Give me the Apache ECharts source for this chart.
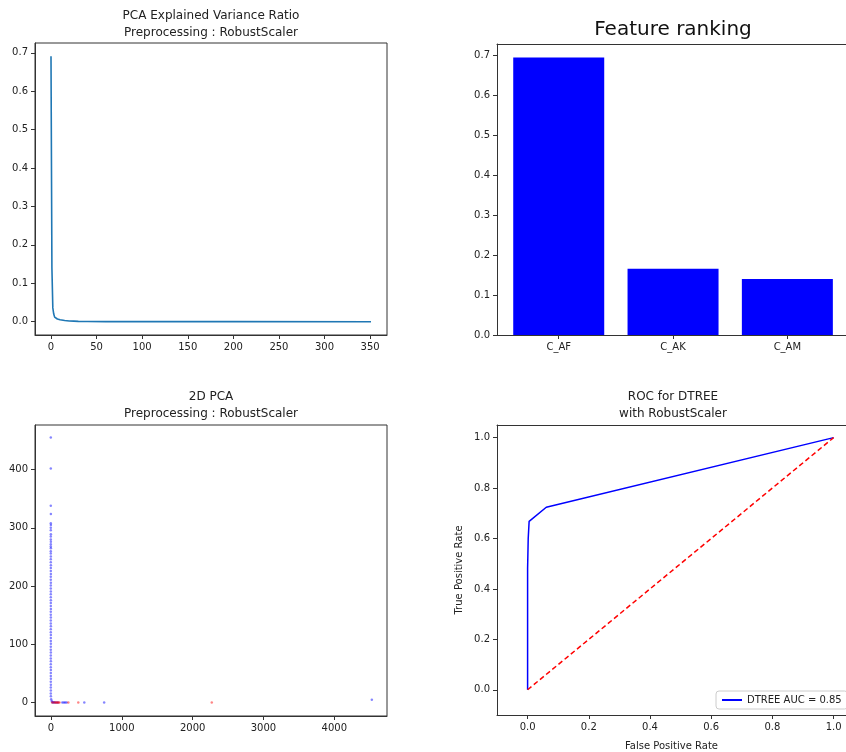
<!DOCTYPE html>
<html>
<head>
<meta charset="utf-8">
<script src="https://cdn.jsdelivr.net/npm/echarts@6/dist/echarts.min.js"></script>
<style>
  html, body { margin: 0; padding: 0; background: #fff; }
  #main { width: 846px; height: 752px; }
</style>
</head>
<body>
<div id="main"></div>
<script>
// PCA explained variance ratio (component index / ratio)
const pcaComp = [0, 1, 2, 3, 4, 5, 6, 7, 8, 10, 12, 15, 20, 25, 30, 40, 60, 100, 200, 351];
const pcaRatio = [0.691, 0.14, 0.036, 0.02, 0.012, 0.009, 0.008, 0.007, 0.006, 0.005, 0.004, 0.003, 0.002, 0.0015, 0.001, 0.0006, 0.0003, 0.0002, 0.0001, 0.0];

// feature ranking
const features = ['C_AF', 'C_AK', 'C_AM'];
const importances = [0.695, 0.166, 0.140];

// 2D PCA scatter, class 0 (blue) and class 1 (red)
const blueX = [-3, -3, -3, -2, -3, -2, -3, -3, -2, -3, -3, -2, -3, -3, -2, -3, -3, -2, -3, -3,
  -2, -3, -3, -2, -3, -3, -2, -3, -3, -2, -3, -3, -2, -3, -3, -2, -3, -3, -2, -3,
  -3, -2, -3, -3, -2, -3, -3, -2, -3, -3, -2, -3, -3, -2, -3, -3, -2, -3, -3, -2,
  -3, -2, -3, -2, -3, -2, 2, 10, 20, 30, 45, 60, 80, 100, 160, 180, 200, 220, 470, 750, 4530];
const blueY = [455, 402, 338, 324, 308, 305, 300, 296, 289, 285, 280, 276, 272, 268, 265, 260, 256, 251, 246, 241,
  236, 231, 226, 221, 216, 211, 206, 201, 196, 191, 186, 181, 176, 171, 166, 161, 156, 151, 146, 141,
  136, 131, 126, 121, 116, 111, 106, 101, 96, 91, 86, 81, 76, 71, 66, 61, 56, 51, 46, 41,
  36, 31, 26, 21, 16, 11, 6, 3, 1, 0.5, 1, 0.5, 0.5, 0.5, 0.5, 0.5, 0.5, 0.5, 0.5, 0.5, 5];
const redX = [15, 40, 60, 75, 90, 105, 120, 245, 385, 2270];
const redY = [0.5, 0.5, 0.5, 0.5, 0.5, 0.5, 0.5, 0.5, 0.5, 0.5];

// ROC curve
const fpr = [0, 0, 0.002, 0.005, 0.061, 1];
const tpr = [0, 0.48, 0.6, 0.668, 0.724, 1];
const chanceX = [0, 1];
const chanceY = [0, 1];

const zip = (a, b) => a.map((v, i) => [v, b[i]]);

const FONT = 'DejaVu Sans';
const AX = '#333';

function axis(extra) {
  return Object.assign({
    axisLine: { show: true, onZero: false, lineStyle: { color: AX, width: 1 } },
    axisTick: { show: true, length: 4, lineStyle: { color: AX } },
    axisLabel: { color: '#222', fontFamily: FONT, fontSize: 10, margin: 7 },
    splitLine: { show: false }
  }, extra);
}
function ticks(vals, fmt, extra) {
  const o = axis(extra);
  o.axisTick = Object.assign({}, o.axisTick, { customValues: vals });
  o.axisLabel = Object.assign({}, o.axisLabel, { customValues: vals, formatter: fmt });
  return o;
}
// plain top spine for panels whose right edge runs off the page
function topSpine(grid, min, max) {
  return {
    type: 'value', gridIndex: grid, position: 'top', min: min, max: max,
    axisLine: { show: true, onZero: false, lineStyle: { color: AX, width: 1 } },
    axisTick: { show: false }, axisLabel: { show: false }, splitLine: { show: false }
  };
}
const f1 = v => v.toFixed(1);
const f0 = v => String(Math.round(v));

const chart = echarts.init(document.getElementById('main'));

const option = {
  animation: false,
  grid: [
    { left: 35, top: 43, width: 352, height: 292, show: true, borderColor: AX, borderWidth: 1 },
    { left: 497, top: 44, width: 349, height: 291 },
    { left: 35, top: 425, width: 352, height: 291, show: true, borderColor: AX, borderWidth: 1 },
    { left: 497, top: 425, width: 349, height: 291 }
  ],
  xAxis: [
    ticks([0, 50, 100, 150, 200, 250, 300, 350], f0, { type: 'value', gridIndex: 0, min: -17.55, max: 368.55 }),
    ticks([0, 1, 2], v => features[Math.round(v)], { type: 'value', gridIndex: 1, min: -0.54, max: 2.513 }),
    ticks([0, 1000, 2000, 3000, 4000], f0, { type: 'value', gridIndex: 2, min: -226, max: 4744 }),
    ticks([0, 0.2, 0.4, 0.6, 0.8, 1.0], f1, {
      type: 'value', gridIndex: 3, min: -0.1, max: 1.0405,
      name: 'False Positive Rate', nameLocation: 'middle', nameGap: 26,
      nameTextStyle: { fontFamily: FONT, fontSize: 10, color: '#222' }
    }),
    topSpine(1, -0.54, 2.513),
    topSpine(3, -0.1, 1.0405)
  ],
  yAxis: [
    ticks([0, 0.1, 0.2, 0.3, 0.4, 0.5, 0.6, 0.7], f1, { type: 'value', gridIndex: 0, min: -0.0346, max: 0.7257 }),
    ticks([0, 0.1, 0.2, 0.3, 0.4, 0.5, 0.6, 0.7], f1, { type: 'value', gridIndex: 1, min: 0, max: 0.7285 }),
    ticks([0, 100, 200, 300, 400], f0, { type: 'value', gridIndex: 2, min: -22.8, max: 476.5 }),
    ticks([0, 0.2, 0.4, 0.6, 0.8, 1.0], f1, {
      type: 'value', gridIndex: 3, min: -0.1, max: 1.05,
      name: 'True Positive Rate', nameLocation: 'middle', nameGap: 33, nameRotate: 90,
      nameTextStyle: { fontFamily: FONT, fontSize: 10, color: '#222' }
    })
  ],
  legend: {
    data: ['DTREE AUC = 0.85'],
    left: 716, top: 691,
    padding: [4, 6],
    backgroundColor: '#fff',
    borderColor: '#ccc', borderWidth: 1, borderRadius: 3,
    icon: 'rect', itemWidth: 20, itemHeight: 2, itemGap: 5,
    textStyle: { fontFamily: FONT, fontSize: 10, color: '#222' }
  },
  graphic: [
    { type: 'text', x: 211, y: 7, style: { text: 'PCA Explained Variance Ratio\nPreprocessing : RobustScaler', align: 'center', font: '12px "DejaVu Sans"', fill: '#222', lineHeight: 17 } },
    { type: 'text', x: 673, y: 20, style: { text: 'Feature ranking', align: 'center', font: '20px "DejaVu Sans"', fill: '#111' } },
    { type: 'text', x: 211, y: 388, style: { text: '2D PCA\nPreprocessing : RobustScaler', align: 'center', font: '12px "DejaVu Sans"', fill: '#222', lineHeight: 17 } },
    { type: 'text', x: 673, y: 388, style: { text: 'ROC for DTREE\nwith RobustScaler', align: 'center', font: '12px "DejaVu Sans"', fill: '#222', lineHeight: 17 } }
  ],
  series: [
    {
      type: 'line', xAxisIndex: 0, yAxisIndex: 0, data: zip(pcaComp, pcaRatio),
      showSymbol: false, lineStyle: { color: '#1f77b4', width: 1.6 }
    },
    {
      type: 'bar', xAxisIndex: 1, yAxisIndex: 1, data: zip([0, 1, 2], importances),
      barWidth: 91, itemStyle: { color: '#0000ff' }
    },
    {
      type: 'scatter', xAxisIndex: 2, yAxisIndex: 2, data: zip(blueX, blueY),
      symbolSize: 2.5, itemStyle: { color: 'rgba(0,0,255,0.6)' }
    },
    {
      type: 'scatter', xAxisIndex: 2, yAxisIndex: 2, data: zip(redX, redY),
      symbolSize: 2.5, itemStyle: { color: 'rgba(255,0,0,0.6)' }
    },
    {
      name: 'DTREE AUC = 0.85',
      type: 'line', xAxisIndex: 3, yAxisIndex: 3, data: zip(fpr, tpr),
      showSymbol: false, itemStyle: { color: '#0000ff' }, lineStyle: { color: '#0000ff', width: 1.5 }
    },
    {
      type: 'line', xAxisIndex: 3, yAxisIndex: 3, data: zip(chanceX, chanceY),
      showSymbol: false, lineStyle: { color: '#ff0000', width: 1.5, type: [5, 3] }
    }
  ]
};

chart.setOption(option);
</script>
</body>
</html>
